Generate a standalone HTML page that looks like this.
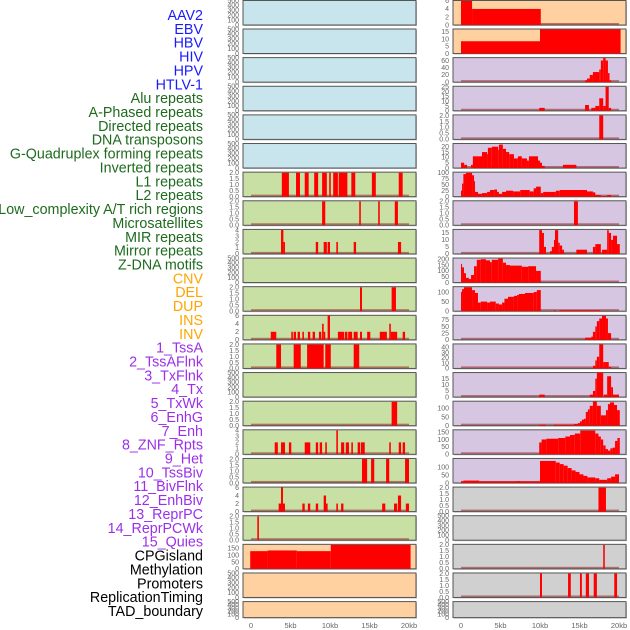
<!DOCTYPE html>
<html><head><meta charset="utf-8"><style>
html,body{margin:0;padding:0;background:#fff;width:630px;height:630px;overflow:hidden}
svg{display:block;font-family:"Liberation Sans",sans-serif}
</style></head><body>
<svg id="chart" width="630" height="630" viewBox="0 0 630 630"></svg>
<script>
const trackLabels = ["AAV2","EBV","HBV","HIV","HPV","HTLV-1","Alu repeats","A-Phased repeats","Directed repeats","DNA transposons","G-Quadruplex forming repeats","Inverted repeats","L1 repeats","L2 repeats","Low_complexity A/T rich regions","Microsatellites","MIR repeats","Mirror repeats","Z-DNA motifs","CNV","DEL","DUP","INS","INV","1_TssA","2_TssAFlnk","3_TxFlnk","4_Tx","5_TxWk","6_EnhG","7_Enh","8_ZNF_Rpts","9_Het","10_TssBiv","11_BivFlnk","12_EnhBiv","13_ReprPC","14_ReprPCWk","15_Quies","CPGisland","Methylation","Promoters","ReplicationTiming","TAD_boundary"];
const labelGroups = [6,13,5,15,5];
const groupColors = ["#1a1aff","#1e6b1e","#ffa500","#9b30e8","#000000"];
const xTickValues = [0,5,10,15,20];
const xTickLabels = ["0","5kb","10kb","15kb","20kb"];
const T2 = [0,0.5,1,1.5,2], TE = [0,100,200,300,400,500];
const leftBg = ["b","b","b","b","b","b","g","g","g","g","g","g","g","g","g","g","g","g","g","o","o","o"];
const rightBg = ["o","o","p","p","p","p","p","p","p","p","p","p","p","p","p","p","p","g2","g2","g2","g2","g2"];
const leftTicks = [TE,TE,TE,TE,TE,TE,T2,T2,[0,1,2,3,4],TE,T2,[0,2,4,6],T2,TE,T2,[0,1,2,3,4],T2,[0,2,4,6],T2,[0,50,100,150],TE,TE];
const leftMax = [500,500,500,500,500,500,2.05,2.05,4.1,500,2.05,6.1,2.05,500,2.05,4.1,2.05,6.1,2.05,180,500,500];
const rightTicks = [[0,2,4,6],[0,5,10,15],[0,20,40,60],[0,5,10,15,20,25],T2,[0,5,10,15,20],[0,25,50,75,100],T2,[0,5,10,15],[0,50,100,150,200],[0,50,100],[0,25,50,75],[0,10,20,30,40],[0,5,10,15],[0,50,100],[0,50,100,150],[0,50,100],T2,TE,T2,T2,TE];
const rightMax = [6.1,17,68,25.5,2.05,23,103,2.05,17.5,210,128,92,46,20,142,165,156,2.05,500,2.05,2.05,500];
const leftData = [[],[],[],[],[],[],
 [[3.9,4.8,2],[5.7,6.2,2],[6.8,7.3,2],[8.0,8.5,2],[9.0,9.6,2],[9.9,10.1,2],[10.4,11.0,2],[11.1,12.2,2],[12.7,13.2,2],[15.3,15.8,2],[18.7,19.2,2]],
 [[9.0,9.4,2],[13.7,13.9,2],[16.1,16.3,2],[18.2,18.6,2]],
 [[3.8,4.1,4],[4.1,4.3,2],[8.2,8.5,2],[9.2,9.6,2],[9.7,10.0,2],[10.8,11.0,2],[13.0,13.3,2],[18.6,19.0,2]],
 [],
 [[13.8,14.05,2],[17.8,18.35,2]],
 [[2.5,3.2,2],[5.1,5.3,2],[5.4,5.7,2],[5.9,6.2,2],[6.5,6.7,2],[7.2,7.5,2],[7.8,8.1,2],[8.6,8.9,2],[9.0,9.2,4],[9.2,9.4,2],[9.7,10.0,6],[11.0,11.8,2],[11.9,12.2,2],[12.3,12.8,2],[13.0,13.5,2],[13.8,14.05,2],[14.7,15.1,2],[16.3,17.2,2],[17.5,17.7,4],[17.7,18.5,2],[19.2,19.5,2]],
 [[3.2,3.8,2],[5.4,6.3,2],[7.1,9.2,2],[9.4,10.1,2],[13.0,13.7,2]],
 [],
 [[17.8,18.5,2]],
 [[3.0,3.4,2],[3.8,4.3,2],[4.8,5.1,2],[6.8,7.5,2],[8.2,8.5,2],[8.7,9.0,2],[9.4,9.6,2],[10.8,11.0,4],[11.4,11.8,2],[12.0,12.4,2],[12.7,12.9,2],[13.5,13.8,2],[13.9,14.4,2],[17.5,17.7,2],[18.7,19.0,2],[19.2,19.5,2]],
 [[14.05,14.7,2],[15.2,15.6,2],[17.1,17.5,2],[19.5,20.0,2]],
 [[3.5,3.8,2],[3.8,4.05,6],[4.05,4.3,2],[6.5,6.8,2],[7.2,7.5,2],[8.2,8.5,2],[9.2,9.5,4],[9.5,9.7,2],[10.8,11.0,2],[11.4,11.7,2],[16.6,17.0,2],[18.1,18.5,2],[18.6,19.0,4],[19.6,20.0,2]],
 [[0.8,1.0,2]],
 [[-0.1,2.1,130],[2.1,5.8,135],[5.8,10.1,130],[10.1,20.2,176]],
 [],[]];
const rightData = [
 [[0,1.4,6],[1.4,10.1,4]],
 [[0,10,8.5],[10,20.2,16.7]],
 [[15.7,15.95,5],[15.95,16.3,10],[16.3,16.7,20],[16.7,17.5,28],[17.5,17.7,35],[17.7,18.0,60],[18.0,18.3,68],[18.3,18.6,60],[18.6,18.8,25],[18.8,19.0,5]],
 [[9.9,10.6,3],[15.7,16.2,6],[16.5,17.0,3],[17.0,17.5,5],[17.5,18.0,13],[18.0,18.3,5],[18.3,18.7,25],[18.7,19.0,3]],
 [[17.5,18.0,2]],
 [[0,0.4,5],[0.4,0.76,3],[1.27,1.5,3],[1.5,2.66,11],[2.66,3.3,15],[3.3,3.4,13],[3.4,3.9,19],[3.9,4.7,20],[4.7,4.8,17],[4.8,5.3,22],[5.3,5.7,18],[5.7,6.1,15],[6.1,6.7,13],[6.7,7.2,9],[7.2,7.7,11],[7.7,8.35,9],[8.35,8.6,7],[8.6,9.75,11],[9.75,10.0,7],[10.0,10.25,5],[10.25,10.6,2],[12.9,14.6,3]],
 [[0,0.13,25],[0.13,0.3,55],[0.3,0.63,95],[0.63,1.4,100],[1.4,1.65,90],[1.65,1.77,65],[1.77,2.15,20],[2.15,2.66,12],[2.66,3.3,15],[3.3,3.67,20],[3.67,4.2,28],[4.2,4.56,30],[4.56,4.8,20],[4.8,5.2,12],[5.2,5.7,20],[5.7,6.6,25],[6.6,7.5,22],[7.5,8.7,28],[8.7,9.2,22],[9.2,9.5,35],[9.5,10.1,42],[10.1,10.4,15],[10.4,12.0,20],[12.0,12.5,25],[12.5,15.95,28],[15.95,16.7,22],[16.7,17.0,18],[17.0,17.7,7],[17.7,18.5,2],[18.5,19.0,7]],
 [[14.3,14.8,2]],
 [[9.9,10.25,17],[10.25,10.5,15],[10.5,10.76,5],[11.27,11.5,2],[11.5,11.77,5],[11.77,11.9,10],[11.9,12.3,17],[12.3,12.5,8],[12.5,12.8,6],[12.8,13.04,3],[14.6,15.95,3],[16.7,17.0,5],[17.0,17.7,7],[17.85,18.5,3],[18.5,18.7,17],[18.7,19.0,15],[19.0,19.24,10],[19.24,19.75,13],[19.75,20.1,7]],
 [[0,0.13,160],[0.13,0.38,130],[0.38,0.63,80],[0.63,1.0,40],[1.0,1.27,30],[1.27,1.65,65],[1.65,2.0,140],[2.0,2.5,195],[2.5,3.16,200],[3.16,3.67,190],[3.67,3.9,175],[3.9,4.7,195],[4.7,5.3,205],[5.3,5.7,170],[5.7,6.2,150],[6.2,7.7,145],[7.7,8.5,135],[8.5,9.5,140],[9.5,10.1,100]],
 [[0,0.13,100],[0.13,0.38,115],[0.38,1.4,125],[1.4,1.77,110],[1.77,2.15,95],[2.15,2.5,45],[2.5,3.3,50],[3.3,3.67,45],[3.67,4.4,50],[4.4,4.8,40],[4.8,5.2,35],[5.2,5.5,45],[5.5,5.95,65],[5.95,6.7,75],[6.7,7.1,80],[7.1,7.34,85],[7.34,8.1,90],[8.1,9.2,95],[9.2,9.6,100],[9.6,10.1,110],[11.77,12.0,5],[12.5,17.6,5]],
 [[15.7,16.5,8],[16.5,16.7,12],[16.7,17.0,30],[17.0,17.2,50],[17.2,17.5,70],[17.5,17.85,80],[17.85,18.35,90],[18.35,18.6,80],[18.6,19.0,25]],
 [[16.7,17.0,5],[17.0,17.2,15],[17.2,17.5,22],[17.5,18.0,45],[18.0,18.3,12],[18.3,18.7,12],[18.7,19.0,3]],
 [[9.9,10.6,2],[16.3,16.7,2],[16.7,17.0,5],[17.0,17.2,15],[17.2,18.0,20],[18.1,18.5,2],[18.5,19.0,17],[19.0,19.24,8],[19.24,20.0,2]],
 [[9.9,10.76,5],[11.77,14.3,5],[14.3,14.8,10],[14.8,15.06,15],[15.06,15.3,25],[15.3,15.57,35],[15.57,15.8,40],[15.8,16.07,80],[16.07,16.3,95],[16.3,16.7,115],[16.7,17.2,140],[17.2,17.7,115],[17.7,18.35,60],[18.35,18.6,90],[18.6,18.86,125],[18.86,19.37,135],[19.37,19.75,120],[19.75,20.1,90]],
 [[9.9,10.2,80],[10.2,10.8,100],[10.8,12.3,105],[12.3,13.2,110],[13.2,13.8,120],[13.8,14.4,130],[14.4,15.1,140],[15.1,17.0,160],[17.0,17.4,140],[17.4,17.7,120],[17.7,18.0,100],[18.0,18.3,60],[18.3,18.6,35],[18.6,18.9,25],[18.9,19.2,40],[19.2,19.5,45],[19.5,19.8,90],[19.8,20.1,110]],
 [[0,0.3,10],[0.3,2.3,15],[2.3,7,10],[7,7.5,12],[7.5,10,10],[10,12,140],[12,12.5,130],[12.5,13,120],[13,13.5,110],[13.5,14,95],[14,14.5,80],[14.5,15,70],[15,15.5,55],[15.5,16,45],[16,17,35],[17,17.5,30],[17.5,18.5,20],[18.5,19,30],[19,19.5,40],[19.5,20,55]],
 [[17.4,18.35,2]],
 [],
 [[18.0,18.2,2]],
 [[10.0,10.25,2],[13.55,13.9,2],[15.06,15.3,2],[15.8,16.2,2],[16.8,17.2,2],[19.4,19.75,2]],
 []];

const NS = "http://www.w3.org/2000/svg";
const svg = document.getElementById("chart");
const bgColors = {b:"#c8e4ec", g:"#c8e0a4", o:"#ffd0a0", p:"#d6c6e2", g2:"#d0d0d0"};
function mk(tag, attrs, parent){const e=document.createElementNS(NS,tag);for(const k in attrs)e.setAttribute(k,attrs[k]);(parent||svg).appendChild(e);return e;}
function rowTop(i){return i===0?0.5:29+(i-1)*28.63;}
function rowH(i){return i===21?16:24.5;}
function xScale(col,kb){return (col===0?251:461)+kb*7.9;}

let li=0;
labelGroups.forEach((n,g)=>{for(let k=0;k<n;k++){
  const t=mk("text",{x:203,y:15+li*13.86+5,"text-anchor":"end","font-size":"14.3",fill:groupColors[g]});
  t.textContent=trackLabels[li];
  
  
  li++;}});

function panel(col,i,bgKey,ymax,ticks,bars){
  const x0=col===0?243:453, w=173, y0=rowTop(i), h=rowH(i);
  const g=mk("g",{});
  
  
  mk("rect",{x:x0+1,y:y0+1,width:w,height:h,fill:"#999",opacity:0.6},g);
  mk("rect",{x:x0,y:y0,width:w,height:h,fill:bgColors[bgKey],stroke:"#555","stroke-width":1},g);
  const yS=v=>y0+h-Math.min(v,ymax)/ymax*h;
  const dec=ticks[ticks.length-1]<=2;
  ticks.forEach(v=>{
    const t=mk("text",{x:x0-4,y:yS(v)+2.3,"text-anchor":"end","font-size":"7",fill:"#666"},g);
    t.textContent=dec?v.toFixed(1):String(v);
    
    
  });
  if(bars.length){
    mk("rect",{x:xScale(col,0),y:y0+h-2,width:xScale(col,20)-xScale(col,0),height:1.6,fill:"rgba(150,30,30,0.55)"},g);
  }
  bars.forEach(b=>{
    const xa=xScale(col,b[0]), xb=xScale(col,b[1]), yt=yS(b[2]);
    const r=mk("rect",{x:xa,y:yt,width:Math.max(1,xb-xa),height:y0+h-yt,fill:"#ff0000"},g);
    
    
  });
}
for(let i=0;i<22;i++){
  panel(0,i,leftBg[i],leftMax[i],leftTicks[i],leftData[i]);
  panel(1,i,rightBg[i],rightMax[i],rightTicks[i],rightData[i]);
}
[0,1].forEach(col=>{
  xTickValues.forEach((v,k)=>{
    const t=mk("text",{x:xScale(col,v),y:628,"text-anchor":"middle","font-size":"7.5",fill:"#666"});
    t.textContent=xTickLabels[k];
    
    
  });
});
</script>
</body></html>
